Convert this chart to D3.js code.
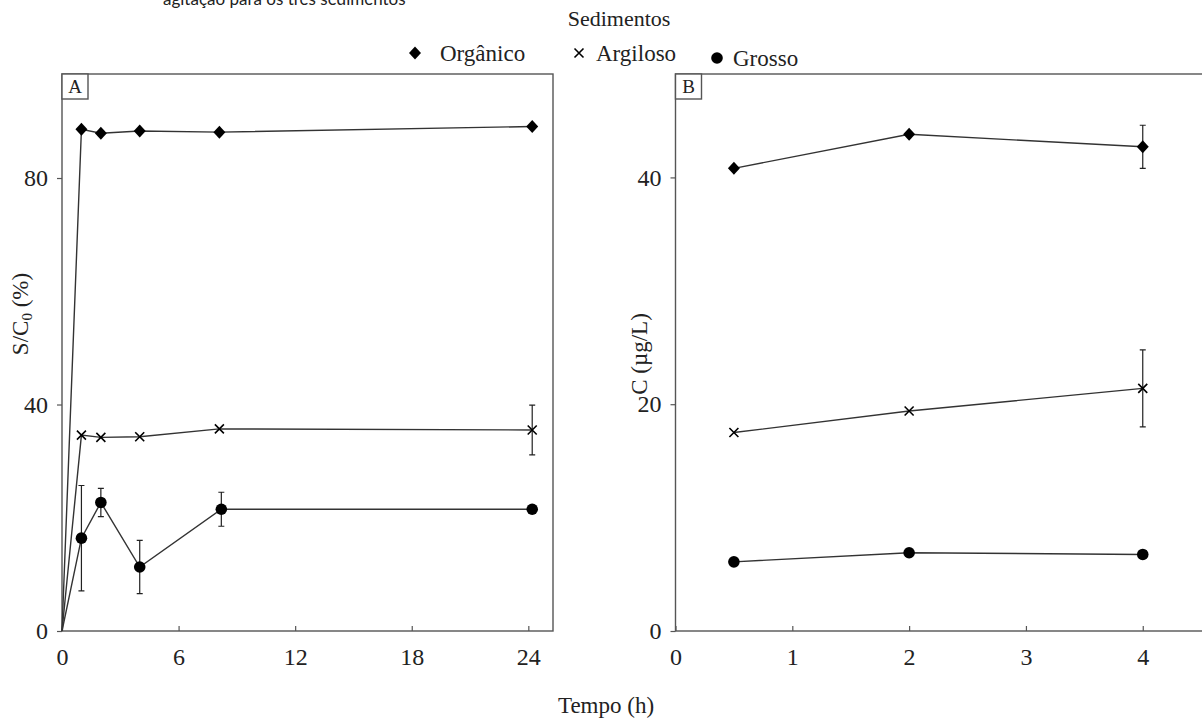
<!DOCTYPE html>
<html>
<head>
<meta charset="utf-8">
<script src="https://cdn.jsdelivr.net/npm/d3@7"></script>
<style>
  body { margin: 0; background: #fff; }
  svg text { font-family: "Liberation Serif", "Times New Roman", serif; fill: #222; }
</style>
</head>
<body>
<div id="chart"></div>
<script>
// Data
var hoursA = [0, 1, 2, 4, 8.1, 24.2];
var organicoA = [0, 88.6, 87.9, 88.3, 88.1, 89.1];
var argilosoA = [0, 34.6, 34.2, 34.3, 35.7, 35.5];
var argilosoErrA = [0, 0, 0, 0, 0, 4.4];
var grossoA = [0, 16.4, 22.7, 11.3, 21.5, 21.5];
var grossoErrA = [0, 9.3, 2.5, 4.7, 3.0, 0];

var hoursB = [0.5, 2, 4];
var organicoB = [40.8, 43.8, 42.7];
var organicoErrB = [0, 0, 1.9];
var argilosoB = [17.5, 19.4, 21.4];
var argilosoErrB = [0, 0, 3.4];
var grossoB = [6.1, 6.9, 6.75];

var ticksA_x = [0, 6, 12, 18, 24];
var ticksA_y = [0, 40, 80];
var ticksB_x = [0, 1, 2, 3, 4];
var ticksB_y = [0, 20, 40];

var seriesNames = ["Orgânico", "Argiloso", "Grosso"];

var svgWidth = 1202;
var svgHeight = 722;

var svg = d3.select("#chart")
  .append("svg")
  .attr("width", svgWidth)
  .attr("height", svgHeight);

// cut-off caption line at very top
svg.append("text")
  .attr("x", 163)
  .attr("y", 5)
  .style("font-family", "Lato, 'Open Sans', sans-serif")
  .style("font-size", "17px")
  .text("agitação para os três sedimentos");

// markers
function drawMarker(g, kind, x, y) {
  if (kind === "Orgânico") {
    g.append("path")
      .attr("d", `M${x},${y - 6.5}L${x + 6},${y}L${x},${y + 6.5}L${x - 6},${y}Z`)
      .attr("fill", "#000");
  } else if (kind === "Argiloso") {
    g.append("path")
      .attr("d", `M${x - 4.5},${y - 4.5}L${x + 4.5},${y + 4.5}M${x - 4.5},${y + 4.5}L${x + 4.5},${y - 4.5}`)
      .attr("stroke", "#000")
      .attr("stroke-width", 1.6);
  } else {
    g.append("circle")
      .attr("cx", x).attr("cy", y).attr("r", 5.8)
      .attr("fill", "#000");
  }
}

function drawPanel(opts) {
  var x = d3.scaleLinear().domain(opts.xDomain).range(opts.xRange);
  var y = d3.scaleLinear().domain(opts.yDomain).range(opts.yRange);
  var g = svg.append("g");

  // frame
  var x0 = opts.xRange[0], x1 = opts.xRange[1], y0 = opts.yRange[1], y1 = opts.yRange[0];
  g.append("rect")
    .attr("x", x0).attr("y", y0)
    .attr("width", x1 - x0).attr("height", y1 - y0)
    .attr("fill", "none")
    .attr("stroke", "#555")
    .attr("stroke-width", 1.4);

  // axes
  var bottomAxis = d3.axisBottom(x).tickValues(opts.xTicks).tickFormat(d3.format("d"))
    .tickSizeInner(-5).tickSizeOuter(0).tickPadding(17);
  var leftAxis = d3.axisLeft(y).tickValues(opts.yTicks).tickFormat(d3.format("d"))
    .tickSizeInner(5).tickSizeOuter(0).tickPadding(9);

  var xa = g.append("g")
    .attr("transform", `translate(0, ${y1})`)
    .call(bottomAxis);
  var ya = g.append("g")
    .attr("transform", `translate(${x0}, 0)`)
    .call(leftAxis);
  [xa, ya].forEach(function(a) {
    a.select(".domain").remove();
    a.selectAll("line").attr("stroke", "#555").attr("stroke-width", 1.2);
    a.selectAll("text")
      .style("font-family", "'Liberation Serif', 'Times New Roman', serif")
      .style("font-size", "24px")
      .attr("fill", "#222");
  });

  // panel label box
  g.append("rect")
    .attr("x", x0).attr("y", y0)
    .attr("width", 26).attr("height", 25)
    .attr("fill", "#fff")
    .attr("stroke", "#555")
    .attr("stroke-width", 1.4);
  g.append("text")
    .attr("x", x0 + 13).attr("y", y0 + 19)
    .attr("text-anchor", "middle")
    .style("font-size", "19px")
    .text(opts.label);

  // series
  var line = d3.line().x(d => x(d[0])).y(d => y(d[1]));
  opts.series.forEach(function(s) {
    var pts = s.xs.map((v, i) => [v, s.ys[i], s.err ? s.err[i] : 0]);
    g.append("path")
      .datum(pts)
      .attr("d", line)
      .attr("fill", "none")
      .attr("stroke", "#333")
      .attr("stroke-width", 1.4);

    pts.forEach(function(p) {
      if (p[2] > 0) {
        var cx = x(p[0]);
        var top = y(p[1] + p[2]), bot = y(p[1] - p[2]);
        g.append("path")
          .attr("d", `M${cx},${top}L${cx},${bot}M${cx - 3},${top}L${cx + 3},${top}M${cx - 3},${bot}L${cx + 3},${bot}`)
          .attr("stroke", "#222")
          .attr("stroke-width", 1.2)
          .attr("fill", "none");
      }
    });
    pts.forEach(function(p) {
      if (p[0] === 0 && p[1] === 0) return;
      drawMarker(g, s.name, x(p[0]), y(p[1]));
    });
  });
}

drawPanel({
  label: "A",
  xDomain: [0, 25.27], xRange: [62, 553],
  yDomain: [0, 98.37], yRange: [631, 74],
  xTicks: ticksA_x, yTicks: ticksA_y,
  series: [
    { name: seriesNames[0], xs: hoursA, ys: organicoA },
    { name: seriesNames[1], xs: hoursA, ys: argilosoA, err: argilosoErrA },
    { name: seriesNames[2], xs: hoursA.map((h, i) => i === 4 ? 8.2 : h), ys: grossoA, err: grossoErrA }
  ]
});

drawPanel({
  label: "B",
  xDomain: [0, 4.58], xRange: [675.5, 1210.5],
  yDomain: [0, 49.12], yRange: [631, 74],
  xTicks: ticksB_x, yTicks: ticksB_y,
  series: [
    { name: seriesNames[0], xs: hoursB, ys: organicoB, err: organicoErrB },
    { name: seriesNames[1], xs: hoursB, ys: argilosoB, err: argilosoErrB },
    { name: seriesNames[2], xs: hoursB, ys: grossoB }
  ]
});

// axis titles
svg.append("text")
  .attr("transform", "translate(28, 314) rotate(-90)")
  .attr("text-anchor", "middle")
  .style("font-size", "23px")
  .html("S/C<tspan font-size='15px' dy='4'>0</tspan><tspan dy='-4'> (%)</tspan>");

svg.append("text")
  .attr("transform", "translate(647, 354) rotate(-90)")
  .attr("text-anchor", "middle")
  .style("font-size", "23px")
  .text("C (µg/L)");

svg.append("text")
  .attr("x", 606).attr("y", 713)
  .attr("text-anchor", "middle")
  .style("font-size", "23px")
  .text("Tempo (h)");

// legend
svg.append("text")
  .attr("x", 619).attr("y", 26)
  .attr("text-anchor", "middle")
  .style("font-size", "22px")
  .text("Sedimentos");

var legend = svg.append("g");
var legendItems = [
  { name: seriesNames[0], mx: 415, my: 53, tx: 440, ty: 61 },
  { name: seriesNames[1], mx: 579, my: 53, tx: 596, ty: 61 },
  { name: seriesNames[2], mx: 717, my: 58, tx: 733, ty: 66 }
];
legendItems.forEach(function(it) {
  drawMarker(legend, it.name, it.mx, it.my);
  legend.append("text")
    .attr("x", it.tx).attr("y", it.ty)
    .style("font-size", "23px")
    .text(it.name);
});
</script>
</body>
</html>
